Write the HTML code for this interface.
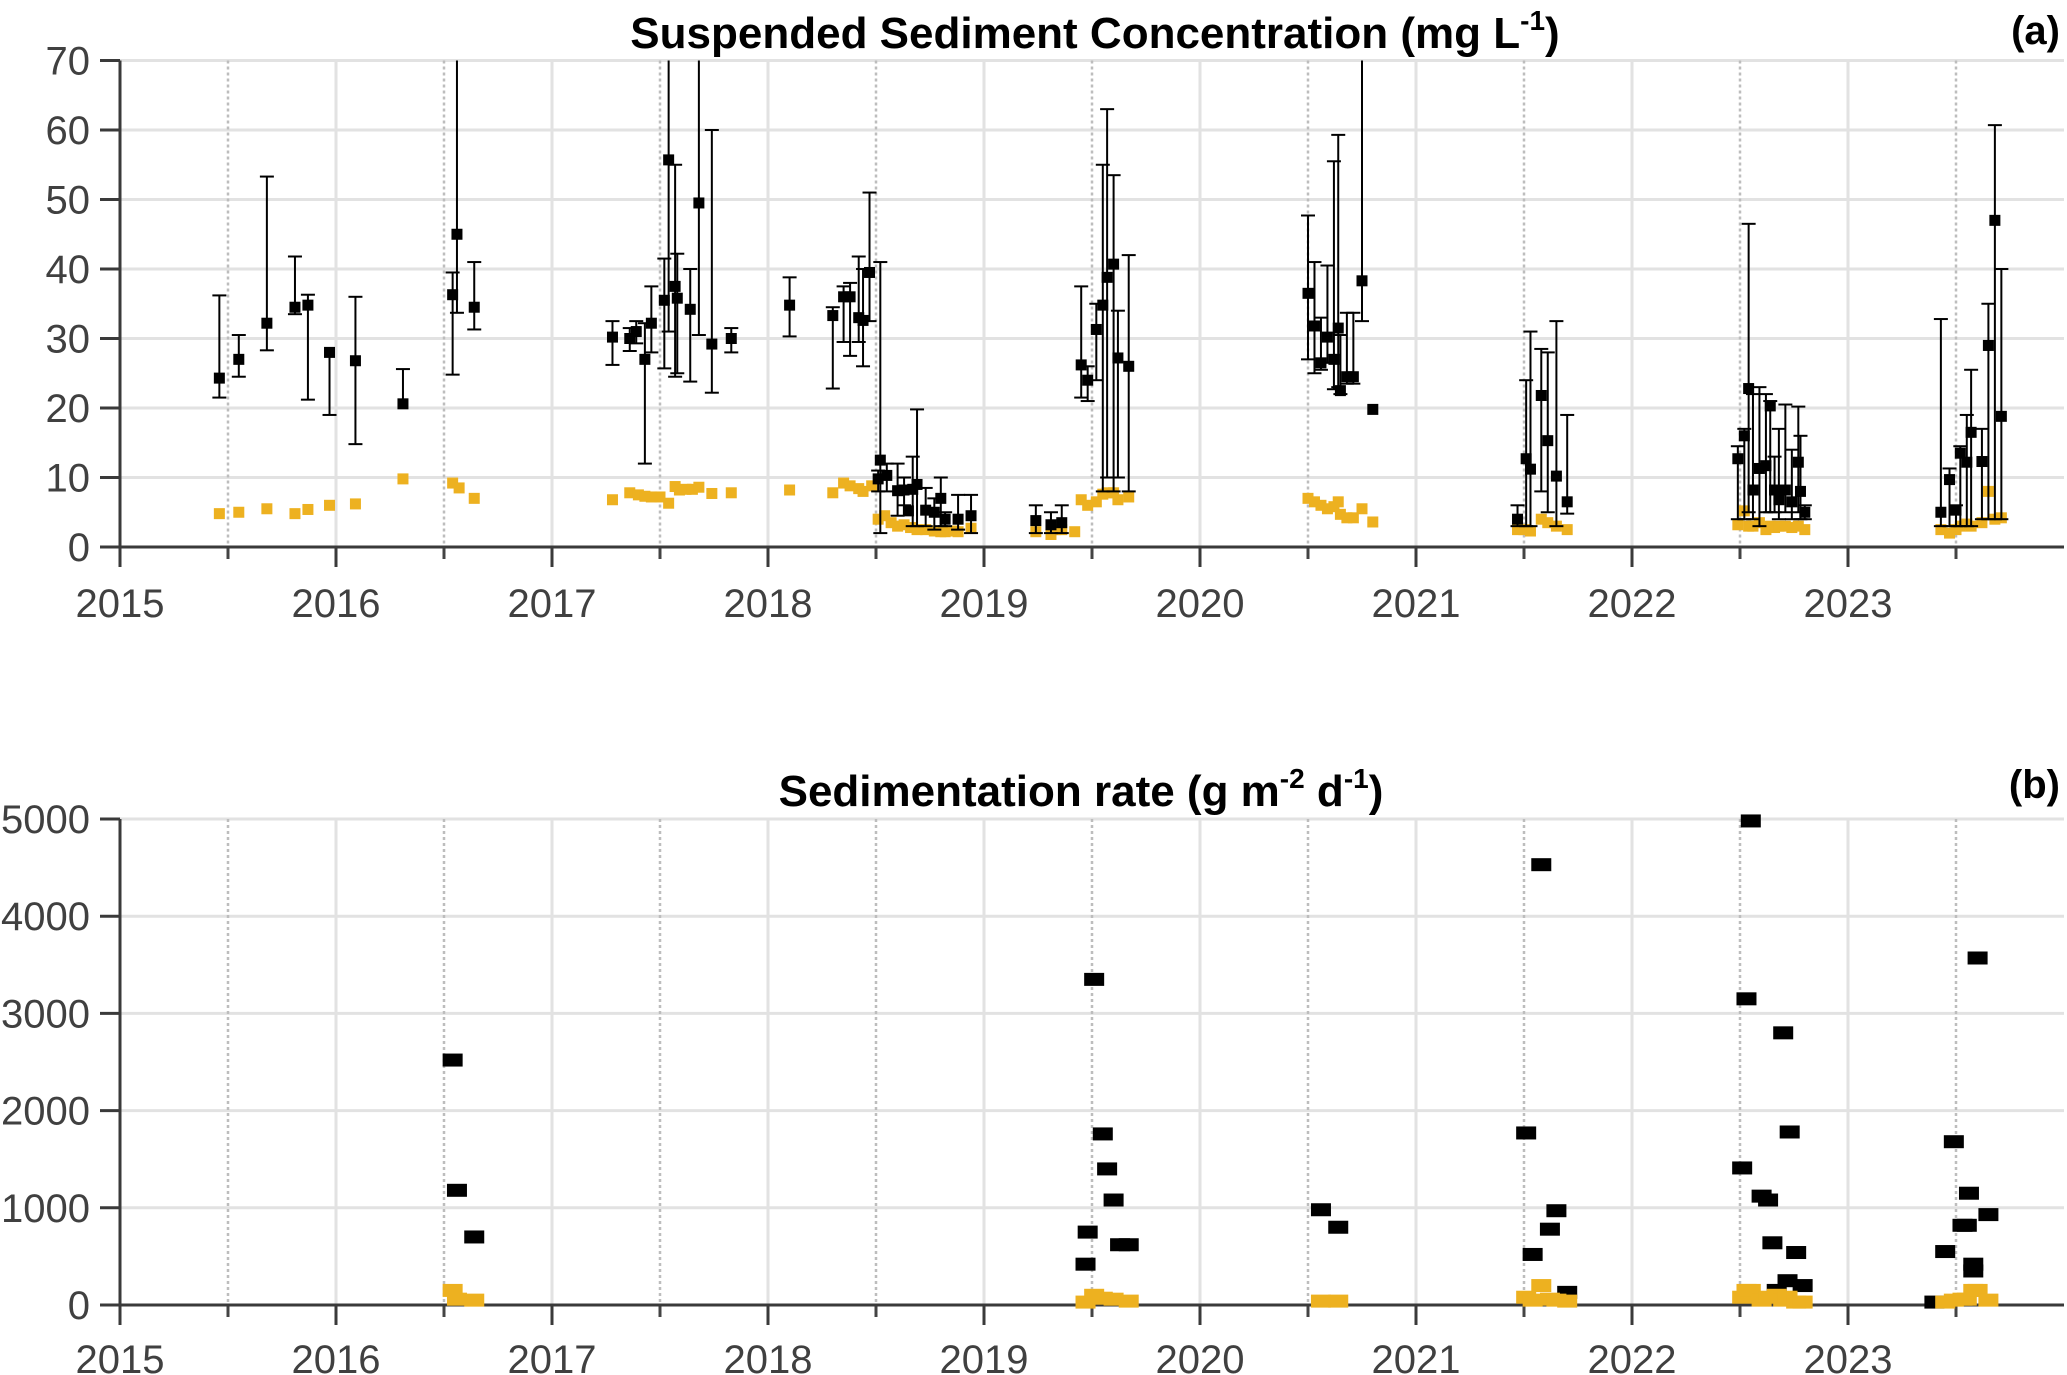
<!DOCTYPE html>
<html><head><meta charset="utf-8"><style>
html,body{margin:0;padding:0;background:#fff;}
svg{display:block;font-family:"Liberation Sans",Arial,sans-serif;}
</style></head><body>
<svg id="fig" width="2067" height="1375" viewBox="0 0 2067 1375" xmlns="http://www.w3.org/2000/svg">
<g id="pa"></g>
<g id="pb"></g>
<text x="1095" y="48" text-anchor="middle" font-size="44" font-weight="bold" fill="#000">Suspended Sediment Concentration (mg L<tspan font-size="28" dy="-18">-1</tspan><tspan dy="18">)</tspan></text>
<text x="2060" y="44" text-anchor="end" font-size="40" font-weight="bold">(a)</text>
<text x="1081" y="806" text-anchor="middle" font-size="44" font-weight="bold" fill="#000">Sedimentation rate (g m<tspan font-size="28" dy="-18">-2</tspan><tspan dy="18"> d</tspan><tspan font-size="28" dy="-18">-1</tspan><tspan dy="18">)</tspan></text>
<text x="2060" y="798" text-anchor="end" font-size="40" font-weight="bold">(b)</text>
</svg>
<script>
// Panel (a) black: SSC mean with error bars
const aBlkYr=[2015.46,2015.55,2015.68,2015.81,2015.87,2015.97,2016.09,2016.31,2016.54,2016.56,2016.64,
2017.28,2017.36,2017.39,2017.43,2017.46,2017.52,2017.54,2017.57,2017.58,2017.64,2017.68,2017.74,2017.83,
2018.10,2018.30,2018.35,2018.38,2018.42,2018.44,2018.47,2018.51,2018.52,2018.55,2018.60,2018.63,2018.65,2018.67,2018.69,2018.73,2018.77,2018.80,2018.82,2018.88,2018.94,
2019.24,2019.31,2019.36,2019.45,2019.48,2019.52,2019.55,2019.57,2019.60,2019.62,2019.67,
2020.50,2020.53,2020.56,2020.59,2020.62,2020.64,2020.65,2020.68,2020.71,2020.75,2020.80,
2021.47,2021.51,2021.53,2021.58,2021.61,2021.65,2021.70,
2022.49,2022.52,2022.54,2022.56,2022.59,2022.62,2022.64,2022.66,2022.68,2022.71,2022.74,2022.77,2022.78,2022.80,
2023.43,2023.47,2023.50,2023.52,2023.55,2023.57,2023.62,2023.65,2023.68,2023.71];
const aBlkVal=[24.3,27,32.2,34.5,34.8,28,26.8,20.6,36.3,45,34.5,
30.2,30,31,27,32.2,35.5,55.7,37.5,35.8,34.2,49.5,29.2,30,
34.8,33.3,36,36,33,32.6,39.5,9.8,12.5,10.3,8.1,8.2,5.2,8.3,9,5.3,5,7,4,4,4.5,
3.8,3.2,3.5,26.2,24,31.3,34.8,38.8,40.7,27.2,26,
36.5,31.8,26.5,30.2,27,31.5,22.5,24.5,24.5,38.3,19.8,
4,12.7,11.2,21.8,15.3,10.2,6.5,
12.7,16,22.8,8.2,11.3,11.7,20.3,8.2,6.8,8.2,6.5,12.2,8,5,
5,9.7,5.3,13.5,12.2,16.5,12.3,29,47,18.8];
const aBlkLo=[21.5,24.5,28.3,33.5,21.2,19,14.8,20.6,24.8,33.7,31.3,
26.2,28.2,29.3,12,28,25.7,31,24.5,25,23.8,30.5,22.2,28,
30.3,22.8,29.5,27.5,29.5,26,32.5,8,2,8,4.5,6,5.2,3,3,3,2.5,3,3,2.5,2,
2,2,2,21.5,21,24,8,10,8,10,8,
27,25,25.5,26.5,22.7,23,22,23.5,23.5,32.5,19.8,
3,3,3,8,5,3,4.8,
4,4,5,4,3,5,5,5,4,5,4,5,4,4,
3,3,3,3,3,3,4,4,4,4];
const aBlkHi=[36.2,30.5,53.3,41.8,36.3,28,36,25.6,39.5,80,41,
32.5,31.5,32.5,32.2,37.5,41.5,80,55,42.2,40,80,60,31.5,
38.8,34.5,37.5,38,41.8,40,51,11,41,12,12,10,5.2,13,19.8,8.5,7,10,5,7.5,7.5,
6,5,6,37.5,26,35,55,63,53.5,34,42,
47.7,41,33,40.5,55.5,59.3,30.5,33.7,33.7,80,19.8,
6,24,31,28.5,28,32.5,19,
14.5,17,46.5,22,23,22,21,13,17,20.5,14,20.2,16,6,
32.8,11.3,6,14.5,19,25.5,17,35,60.7,40];
// Panel (a) orange
const aOrgYr=[2015.46,2015.55,2015.68,2015.81,2015.87,2015.97,2016.09,2016.31,2016.54,2016.57,2016.64,
2017.28,2017.36,2017.40,2017.43,2017.46,2017.50,2017.54,2017.57,2017.59,2017.62,2017.65,2017.68,2017.74,2017.83,
2018.10,2018.30,2018.35,2018.38,2018.42,2018.44,2018.48,2018.51,2018.54,2018.57,2018.60,2018.63,2018.66,2018.69,2018.73,2018.77,2018.80,2018.82,2018.86,2018.88,2018.94,
2019.24,2019.31,2019.33,2019.36,2019.42,2019.45,2019.48,2019.52,2019.55,2019.57,2019.60,2019.62,2019.67,
2020.50,2020.53,2020.56,2020.59,2020.62,2020.64,2020.65,2020.68,2020.71,2020.75,2020.80,
2021.47,2021.50,2021.53,2021.58,2021.61,2021.65,2021.70,
2022.49,2022.52,2022.54,2022.56,2022.59,2022.62,2022.64,2022.66,2022.68,2022.71,2022.74,2022.77,2022.80,
2023.43,2023.47,2023.50,2023.52,2023.55,2023.57,2023.62,2023.65,2023.68,2023.71];
const aOrgVal=[4.8,5,5.5,4.8,5.4,6,6.2,9.8,9.2,8.5,7,
6.8,7.8,7.5,7.3,7.2,7.2,6.3,8.7,8.2,8.3,8.3,8.6,7.7,7.8,
8.2,7.8,9.2,8.8,8.4,8,8.8,4,4.5,3.5,3,3.2,2.8,2.5,2.5,2.3,2.2,2.2,2.3,2.2,2.7,
2.2,1.8,2.5,2.5,2.2,6.8,6,6.5,7.6,7.8,7.8,6.8,7.2,
7,6.5,6,5.5,5.8,6.5,4.7,4.2,4.2,5.5,3.6,
2.5,2.5,2.3,4,3.5,3,2.5,
3.2,5.2,3,3,3.5,2.5,3,2.8,3,3,2.8,3,2.5,
2.5,2,2.5,3,3.3,3,3.5,8,4,4.2];
// Panel (b) black
const bBlkYr=[2016.54,2016.56,2016.64,
2019.47,2019.48,2019.51,2019.55,2019.57,2019.60,2019.63,2019.67,
2020.56,2020.64,
2021.51,2021.54,2021.58,2021.62,2021.65,2021.70,
2022.51,2022.53,2022.55,2022.60,2022.63,2022.65,2022.67,2022.70,2022.72,2022.73,2022.76,2022.79,
2023.40,2023.45,2023.49,2023.53,2023.55,2023.56,2023.58,2023.58,2023.60,2023.65];
const bBlkVal=[2520,1180,700,
420,750,3350,1760,1400,1080,620,620,
980,800,
1770,520,4530,780,970,130,
1410,3150,4980,1120,1080,640,150,2800,250,1780,540,200,
30,550,1680,820,820,1150,420,350,3570,930];
// Panel (b) orange
const bOrgYr=[2016.54,2016.56,2016.64,2019.47,2019.51,2019.55,2019.60,2019.67,2020.56,2020.64,
2021.51,2021.54,2021.58,2021.62,2021.65,2021.70,
2022.51,2022.53,2022.55,2022.60,2022.63,2022.67,2022.70,2022.72,2022.76,2022.79,
2023.45,2023.49,2023.53,2023.55,2023.58,2023.60,2023.65];
const bOrgVal=[150,60,50,30,100,70,60,40,40,40,
80,50,200,60,50,40,
80,150,150,50,80,100,50,80,30,30,
30,50,60,60,150,150,50];
const yearTicks=["2015","2016","2017","2018","2019","2020","2021","2022","2023"];
const aTicks=[0,10,20,30,40,50,60,70];
const bTicks=[0,1000,2000,3000,4000,5000];

const NS="http://www.w3.org/2000/svg";
const X0=120,X1=2064,YR0=2015,YR1=2024;
const xs=v=>X0+(v-YR0)/(YR1-YR0)*(X1-X0);
function mk(p,t,a){const e=document.createElementNS(NS,t);for(const k in a)e.setAttribute(k,a[k]);p.appendChild(e);return e;}
function axes(g,yTop,yBot,ticks,ymax,labelX,labelY,pfx){
  const ys=v=>yBot-v/ymax*(yBot-yTop);
  ticks.forEach(t=>{const l=mk(g,'line',{x1:X0,x2:X1,y1:ys(t),y2:ys(t),stroke:'#e2e2e2','stroke-width':3});
    
    });
  for(let y=YR0;y<=YR1;y++){
    if(y>YR0&&y<YR1){const l=mk(g,'line',{x1:xs(y),x2:xs(y),y1:yTop,y2:yBot,stroke:'#e2e2e2','stroke-width':3});
      
      }
    if(y<YR1){const d=mk(g,'line',{x1:xs(y+0.5),x2:xs(y+0.5),y1:yTop,y2:yBot,stroke:'#bdbdbd','stroke-width':2.5,'stroke-dasharray':'3,3'});
      
      
      const mt=mk(g,'line',{x1:xs(y+0.5),x2:xs(y+0.5),y1:yBot,y2:yBot+12,stroke:'#444','stroke-width':3});
      
      }
  }
  const ax=mk(g,'line',{x1:X0,x2:X0,y1:yTop,y2:yBot+1,stroke:'#3a3a3a','stroke-width':3});
  
  
  const bx=mk(g,'line',{x1:X0,x2:X1,y1:yBot,y2:yBot,stroke:'#3a3a3a','stroke-width':3});
  
  
  ticks.forEach(t=>{const tk=mk(g,'line',{x1:X0-20,x2:X0,y1:ys(t),y2:ys(t),stroke:'#3a3a3a','stroke-width':3});
    
    
    const tx=mk(g,'text',{x:labelX,y:ys(t)+14,'text-anchor':'end','font-size':40,fill:'#404040'});
    tx.textContent=t;
    
    });
  yearTicks.forEach(s=>{const v=+s;
    const tk=mk(g,'line',{x1:xs(v),x2:xs(v),y1:yBot,y2:yBot+20,stroke:'#3a3a3a','stroke-width':3});
    
    
    const tx=mk(g,'text',{x:xs(v),y:labelY,'text-anchor':'middle','font-size':40,fill:'#404040'});
    tx.textContent=s;
    
    });
  return ys;
}
// Panel a
const ga=document.getElementById('pa');
const ysA=axes(ga,60.5,547,aTicks,70,90,617,'panel-a');
const clipA=v=>Math.max(60.5,ysA(v));
aOrgYr.forEach((yr,i)=>{const r=mk(ga,'rect',{x:xs(yr)-5.5,y:ysA(aOrgVal[i])-5.5,width:11,height:11,fill:'#EDB120'});
  
  });
aBlkYr.forEach((yr,i)=>{const x=xs(yr);
  const eb=mk(ga,'line',{x1:x,x2:x,y1:clipA(aBlkLo[i]),y2:clipA(aBlkHi[i]),stroke:'#000','stroke-width':2});
  
  
  [aBlkLo[i],aBlkHi[i]].forEach(v=>{if(v<=70&&v!==aBlkVal[i]){const c=mk(ga,'line',{x1:x-7,x2:x+7,y1:ysA(v),y2:ysA(v),stroke:'#000','stroke-width':2});
    
    }});
  const r=mk(ga,'rect',{x:x-5.5,y:ysA(aBlkVal[i])-5.5,width:11,height:11,fill:'#000'});
  
  });
// Panel b
const gb=document.getElementById('pb');
const ysB=axes(gb,819,1305,bTicks,5000,90,1373,'panel-b');
bBlkYr.forEach((yr,i)=>{const r=mk(gb,'rect',{x:xs(yr)-10,y:ysB(bBlkVal[i])-6.5,width:20,height:13,fill:'#000'});
  
  });
bOrgYr.forEach((yr,i)=>{const r=mk(gb,'rect',{x:xs(yr)-10,y:ysB(bOrgVal[i])-6.5,width:20,height:13,fill:'#EDB120'});
  
  });
</script>
</body></html>
